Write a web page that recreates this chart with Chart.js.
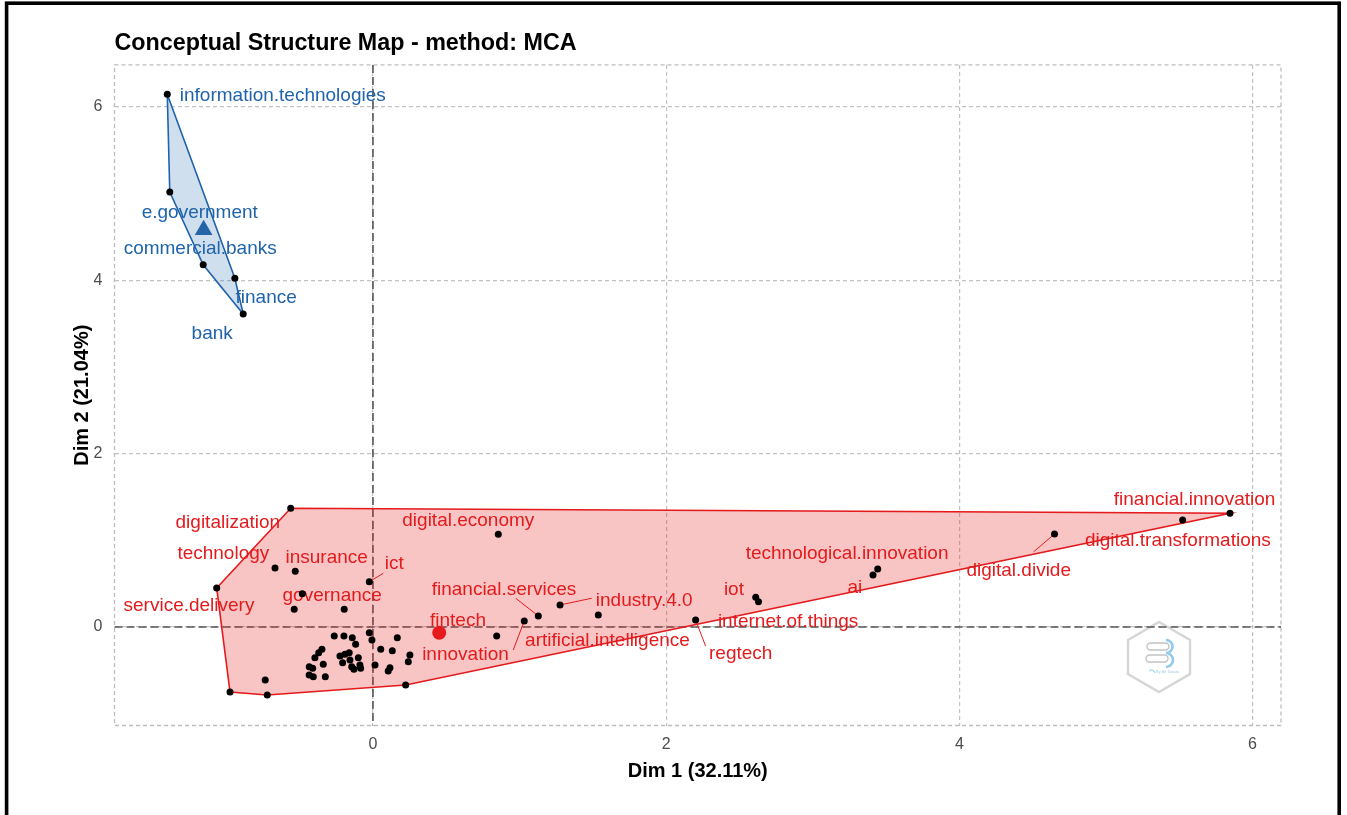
<!DOCTYPE html>
<html>
<head>
<meta charset="utf-8">
<title>Conceptual Structure Map</title>
<script src="https://cdn.jsdelivr.net/npm/chart.js@4.4.1/dist/chart.umd.min.js"></script>
<style>
  html, body { margin: 0; padding: 0; background: #ffffff; }
  canvas { display: block; }
</style>
</head>
<body>
<canvas id="map" width="1347" height="815"></canvas>
<script>
// ---- texts ----
const TITLE = "Conceptual Structure Map - method: MCA";
const X_TITLE = "Dim 1 (32.11%)";
const Y_TITLE = "Dim 2 (21.04%)";

// ---- axes ----
const xTickValues = [0, 2, 4, 6];
const yTickValues = [0, 2, 4, 6];
const xRange = [-1.763, 6.194];
const yRange = [-1.136, 6.481];

// ---- cluster 1 (blue) ----
const blueTerms = ["information.technologies", "e.government", "commercial.banks", "finance", "bank"];
const blueX = [-1.403, -1.386, -1.158, -0.942, -0.885];
const blueY = [6.144, 5.016, 4.177, 4.021, 3.608];
const blueCentroid = [-1.155, 4.578];

// ---- cluster 2 (red), labelled terms ----
const redTerms = [
  "digitalization", "technology", "insurance", "governance", "service.delivery",
  "ict", "digital.economy", "financial.services", "industry.4.0", "fintech",
  "innovation", "artificial.intelligence", "regtech", "iot", "internet.of.things",
  "technological.innovation", "ai", "digital.divide", "digital.transformations", "financial.innovation"
];
const redX = [
  -0.561, -0.668, -0.530, -0.482, -1.066,
  -0.025, 0.855, 1.128, 1.276, 0.457,
  1.032, 1.537, 2.201, 2.611, 2.630,
  3.443, 3.411, 4.649, 5.523, 5.846
];
const redY = [
  1.369, 0.680, 0.642, 0.384, 0.450,
  0.522, 1.069, 0.127, 0.254, -0.069,
  0.069, 0.138, 0.080, 0.342, 0.292,
  0.669, 0.600, 1.072, 1.234, 1.311
];

// ---- cluster 2 (red), remaining terms ----
const redOtherX = [
  0.844, -0.537, -0.196, -0.975, -0.721, -0.735, 0.223,
  -0.264, -0.198, -0.141, -0.118, -0.025, -0.007, 0.166, 0.053, 0.132, 0.252, 0.241,
  -0.348, -0.370, -0.396, -0.339, -0.435, -0.411, -0.435, -0.407, -0.325,
  -0.225, -0.191, -0.162, -0.207, -0.157, -0.100, -0.145, -0.089, -0.084, -0.130,
  0.014, 0.116, 0.104
];
const redOtherY = [
  -0.104, 0.204, 0.204, -0.750, -0.784, -0.611, -0.669,
  -0.104, -0.104, -0.123, -0.199, -0.066, -0.150, -0.123, -0.257, -0.273, -0.323, -0.400,
  -0.257, -0.296, -0.354, -0.430, -0.458, -0.476, -0.554, -0.573, -0.573,
  -0.334, -0.315, -0.296, -0.412, -0.381, -0.354, -0.458, -0.438, -0.476, -0.488,
  -0.438, -0.469, -0.507
];
const redCentroid = [0.452, -0.066];

// ---- styling ----
const FONT = "'Liberation Sans', Arial, Helvetica, sans-serif";
const BLUE = "#1f63ab";
const RED = "#e41a1c";
const BLUE_FILL = "rgba(33, 102, 172, 0.21)";
const RED_FILL = "rgba(228, 26, 28, 0.26)";

// repelled label placement: text centre offset from its point, in pixels
const labelNudge = {
  "information.technologies": [115.5, 1.5],
  "e.government": [30, 20.4],
  "commercial.banks": [-3, -15.7],
  "finance": [31.3, 19.2],
  "bank": [-31, 19.7],
  "digitalization": [-62.9, 14],
  "technology": [-51.7, -14.7],
  "insurance": [31.4, -13.6],
  "governance": [29.9, 2.3],
  "service.delivery": [-27.7, 18],
  "ict": [24.9, -18.4],
  "digital.economy": [-30, -13.6],
  "financial.services": [-34.3, -26],
  "industry.4.0": [84.2, -4],
  "fintech": [18, -12],
  "innovation": [-58.8, 33.3],
  "artificial.intelligence": [9.2, 25.7],
  "regtech": [45.1, 34],
  "iot": [-21.8, -8],
  "internet.of.things": [29.6, 20],
  "technological.innovation": [-30.6, -15.7],
  "ai": [-18.2, 13.3],
  "digital.divide": [-35.8, 36.7],
  "digital.transformations": [-4.8, 21],
  "financial.innovation": [-35.4, -13.3]
};
// connector segments for labels pushed away from their point
const leaderEnd = {
  "ict": [14, -8.4],
  "financial.services": [-22.6, -17.7],
  "industry.4.0": [31.7, -6.7],
  "innovation": [-11, 29],
  "regtech": [10, 26],
  "digital.divide": [-20.8, 17.7]
};

function toPoints(xs, ys) {
  return xs.map((x, i) => ({ x: x, y: ys[i] }));
}

// convex hull (monotone chain), returned closed
function convexHull(points) {
  const s = points.slice().sort((a, b) => a.x - b.x || a.y - b.y);
  const cross = (o, a, b) => (a.x - o.x) * (b.y - o.y) - (a.y - o.y) * (b.x - o.x);
  const lower = [], upper = [];
  for (const q of s) {
    while (lower.length >= 2 && cross(lower[lower.length - 2], lower[lower.length - 1], q) <= 0) lower.pop();
    lower.push(q);
  }
  for (let i = s.length - 1; i >= 0; i--) {
    const q = s[i];
    while (upper.length >= 2 && cross(upper[upper.length - 2], upper[upper.length - 1], q) <= 0) upper.pop();
    upper.push(q);
  }
  upper.pop(); lower.pop();
  const hull = lower.concat(upper);
  hull.push(hull[0]);
  return hull;
}

const bluePts = toPoints(blueX, blueY);
const redPts = toPoints(redX, redY);
const redOtherPts = toPoints(redOtherX, redOtherY);

const HULL_BLUE_INDEX = 5;

const datasets = [
  { // 0: cluster 1 centroid
    data: [{ x: blueCentroid[0], y: blueCentroid[1] }],
    pointStyle: "triangle", pointRadius: 10.2, backgroundColor: "#2464a8", borderWidth: 0
  },
  { // 1: cluster 2 centroid
    data: [{ x: redCentroid[0], y: redCentroid[1] }],
    pointStyle: "circle", pointRadius: 7, backgroundColor: RED, borderWidth: 0
  },
  { // 2: cluster 1 terms
    data: bluePts, terms: blueTerms, labelColor: BLUE,
    pointRadius: 3.5, backgroundColor: "#000000", borderWidth: 0
  },
  { // 3: cluster 2 labelled terms
    data: redPts, terms: redTerms, labelColor: RED,
    pointRadius: 3.5, backgroundColor: "#000000", borderWidth: 0
  },
  { // 4: cluster 2 other terms
    data: redOtherPts,
    pointRadius: 3.5, backgroundColor: "#000000", borderWidth: 0
  },
  { // 5: cluster 1 hull
    data: convexHull(bluePts),
    showLine: true, fill: "shape", tension: 0, pointRadius: 0,
    borderColor: BLUE, borderWidth: 1.6, backgroundColor: BLUE_FILL
  },
  { // 6: cluster 2 hull
    data: convexHull(redPts.concat(redOtherPts)),
    showLine: true, fill: "shape", tension: 0, pointRadius: 0,
    borderColor: RED, borderWidth: 1.6, backgroundColor: RED_FILL
  }
];

// panel border, origin lines and the watermark badge
const panelDecor = {
  id: "panelDecor",
  beforeDatasetsDraw(chart) {
    const { ctx, chartArea: a, scales } = chart;
    ctx.save();
    // panel border
    ctx.strokeStyle = "#bdbdbd";
    ctx.lineWidth = 1.3;
    ctx.setLineDash([4, 3]);
    ctx.strokeRect(a.left, a.top, a.right - a.left, a.bottom - a.top);

    // badge
    const cx = a.right - 122, cy = a.bottom - 68.5;
    ctx.setLineDash([]);
    ctx.strokeStyle = "#d6d6d6";
    ctx.lineWidth = 2.4;
    ctx.beginPath();
    ctx.moveTo(cx, cy - 35);
    ctx.lineTo(cx + 31, cy - 17);
    ctx.lineTo(cx + 31, cy + 17);
    ctx.lineTo(cx, cy + 35);
    ctx.lineTo(cx - 31, cy + 17);
    ctx.lineTo(cx - 31, cy - 17);
    ctx.closePath();
    ctx.stroke();
    ctx.lineWidth = 1.4;
    ctx.strokeStyle = "#c4c4c4";
    ctx.beginPath();
    ctx.roundRect(cx - 12, cy - 14, 22, 7, 3.5);
    ctx.roundRect(cx - 13, cy - 2, 22, 7, 3.5);
    ctx.stroke();
    ctx.strokeStyle = "#8fcbef";
    ctx.lineWidth = 2.6;
    ctx.beginPath();
    ctx.arc(cx + 7, cy - 10.5, 6.5, -Math.PI / 2, Math.PI / 2);
    ctx.stroke();
    ctx.beginPath();
    ctx.arc(cx + 7, cy + 3, 7, -Math.PI / 2, Math.PI / 2);
    ctx.stroke();
    ctx.lineWidth = 1;
    ctx.beginPath();
    ctx.moveTo(cx - 10, cy + 14);
    ctx.quadraticCurveTo(cx - 6, cy + 11, cx - 4, cy + 16);
    ctx.stroke();
    ctx.fillStyle = "#a6cde8";
    ctx.font = `4px ${FONT}`;
    ctx.textBaseline = "middle";
    ctx.fillText("By Ali Tabata", cx - 3, cy + 15);

    // origin lines
    const x0 = scales.x.getPixelForValue(0);
    const y0 = scales.y.getPixelForValue(0);
    ctx.strokeStyle = "#555555";
    ctx.lineWidth = 1.6;
    ctx.setLineDash([8, 4]);
    ctx.beginPath();
    ctx.moveTo(x0, a.top);
    ctx.lineTo(x0, a.bottom);
    ctx.moveTo(a.left, y0);
    ctx.lineTo(a.right, y0);
    ctx.stroke();
    ctx.restore();
  }
};

// term labels, drawn above the hulls and below the points
const termLabels = {
  id: "termLabels",
  afterDatasetDraw(chart, args) {
    if (args.index !== HULL_BLUE_INDEX) return;
    const ctx = chart.ctx;
    ctx.save();
    ctx.font = `19px ${FONT}`;
    ctx.textAlign = "center";
    ctx.textBaseline = "middle";
    chart.data.datasets.forEach((ds, di) => {
      if (!ds.terms) return;
      const meta = chart.getDatasetMeta(di);
      ds.terms.forEach((term, j) => {
        const el = meta.data[j];
        const nudge = labelNudge[term] || [0, -14];
        const seg = leaderEnd[term];
        if (seg) {
          const len = Math.hypot(seg[0], seg[1]);
          const gap = 3 / len;
          ctx.strokeStyle = ds.labelColor;
          ctx.lineWidth = 1;
          ctx.beginPath();
          ctx.moveTo(el.x + seg[0] * gap, el.y + seg[1] * gap);
          ctx.lineTo(el.x + seg[0], el.y + seg[1]);
          ctx.stroke();
        }
        ctx.fillStyle = ds.labelColor;
        ctx.fillText(term, el.x + nudge[0], el.y + nudge[1]);
      });
    });
    ctx.restore();
  }
};

// outer frame of the figure
const outerFrame = {
  id: "outerFrame",
  afterDraw(chart) {
    const ctx = chart.ctx;
    ctx.save();
    ctx.strokeStyle = "#000000";
    ctx.lineWidth = 3.6;
    ctx.strokeRect(6.6, 3.2, 1332.6, 840);
    ctx.restore();
  }
};

new Chart(document.getElementById("map"), {
  type: "scatter",
  data: { datasets: datasets },
  options: {
    responsive: false,
    animation: false,
    events: [],
    layout: { padding: { left: 0, right: 66, top: 23, bottom: 0 } },
    plugins: {
      legend: { display: false },
      tooltip: { enabled: false },
      title: {
        display: true,
        text: TITLE,
        align: "start",
        fullSize: false,
        color: "#000000",
        font: { family: FONT, size: 23.3, weight: "bold", lineHeight: 1.2 },
        padding: { top: 7, bottom: 7 }
      }
    },
    scales: {
      x: {
        type: "linear",
        min: xRange[0],
        max: xRange[1],
        afterBuildTicks: (s) => { s.ticks = xTickValues.map((v) => ({ value: v })); },
        afterFit: (s) => { s.height = 89.5; },
        grid: { color: "#c2c2c2", lineWidth: 1.2, drawTicks: false },
        border: { display: false, dash: [4, 3] },
        ticks: {
          color: "#4d4d4d",
          font: { family: FONT, size: 16 },
          padding: 9,
          callback: (v) => String(v)
        },
        title: {
          display: true,
          text: X_TITLE,
          color: "#000000",
          font: { family: FONT, size: 20, weight: "bold", lineHeight: 1.2 },
          padding: { top: 0, bottom: 32 }
        }
      },
      y: {
        type: "linear",
        min: yRange[0],
        max: yRange[1],
        afterBuildTicks: (s) => { s.ticks = yTickValues.map((v) => ({ value: v })); },
        afterFit: (s) => { s.width = 114.5; },
        grid: { color: "#c2c2c2", lineWidth: 1.2, drawTicks: false },
        border: { display: false, dash: [4, 3] },
        ticks: {
          color: "#4d4d4d",
          font: { family: FONT, size: 16 },
          padding: 12,
          callback: (v) => String(v)
        },
        title: {
          display: true,
          text: Y_TITLE,
          color: "#000000",
          font: { family: FONT, size: 20, weight: "bold", lineHeight: 1.2 },
          padding: { top: 70, bottom: 0 }
        }
      }
    }
  },
  plugins: [panelDecor, termLabels, outerFrame]
});
</script>
</body>
</html>
